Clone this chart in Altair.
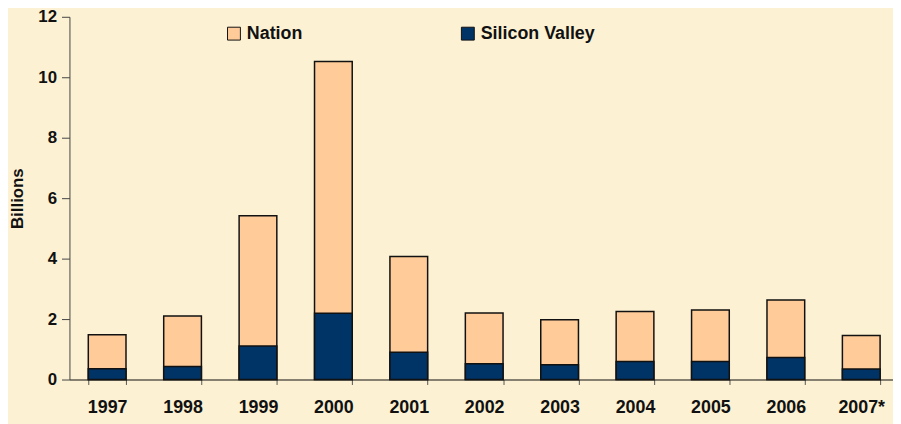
import altair as alt
import pandas as pd

years = ["1997", "1998", "1999", "2000", "2001", "2002", "2003", "2004", "2005", "2006", "2007*"]
nation = [1.48, 2.10, 5.42, 10.52, 4.07, 2.20, 1.98, 2.25, 2.30, 2.63, 1.46]
silicon_valley = [0.36, 0.43, 1.11, 2.19, 0.90, 0.52, 0.49, 0.60, 0.60, 0.73, 0.35]
series = ["Nation", "Silicon Valley"]
colors = ["#FFCC99", "#003366"]
y_ticks = [0, 2, 4, 6, 8, 10, 12]

rows = []
for y, v in zip(years, nation):
    rows.append({"year": y, "series": "Nation", "value": v})
for y, v in zip(years, silicon_valley):
    rows.append({"year": y, "series": "Silicon Valley", "value": v})
df = pd.DataFrame(rows)

FONT = "Liberation Sans"
BG = "#FCF1D3"

chart = alt.Chart(df).mark_bar(stroke="#111111", strokeWidth=1.5).encode(
    x=alt.X("year:N", sort=years,
            scale=alt.Scale(paddingInner=0.5, paddingOuter=0.25),
            axis=alt.Axis(title=None, labelAngle=0, tickBand="extent", tickSize=5,
                          labelPadding=14, labelFontSize=18, labelFontWeight="bold",
                          labelFont=FONT, labelColor="#111111", domainColor="#111111",
                          tickColor="#555555", domainWidth=1.2)),
    y=alt.Y("value:Q", stack=None,
            scale=alt.Scale(domain=[0, 12], nice=False),
            axis=alt.Axis(title="Billions", values=y_ticks, grid=False, tickSize=8,
                          labelPadding=5, labelFontSize=17, labelFontWeight="bold",
                          labelFont=FONT, labelColor="#111111", titleFont=FONT,
                          titleFontSize=17, titleFontWeight="bold", titleColor="#111111",
                          titlePadding=11, domainColor="#444444", tickColor="#444444")),
    color=alt.Color("series:N",
                    scale=alt.Scale(domain=series, range=colors),
                    legend=alt.Legend(title=None, orient="none", direction="horizontal",
                                      legendX=157, legendY=8, symbolType="square",
                                      symbolSize=169, symbolStrokeColor="#111111",
                                      symbolStrokeWidth=1, labelFontSize=18,
                                      labelFontWeight="bold", labelFont=FONT,
                                      labelColor="#111111", columnPadding=158,
                                      labelOffset=4, padding=0)),
    order=alt.Order("series:N", sort="ascending"),
).properties(
    width=837,
    height=366,
    background=BG,
    padding={"left": 62, "top": 7, "right": -6, "bottom": 43},
    autosize=alt.AutoSizeParams(type="none"),
).configure_view(stroke=None)

chart.save("out.html", embed_options={"renderer": "svg", "actions": False})
